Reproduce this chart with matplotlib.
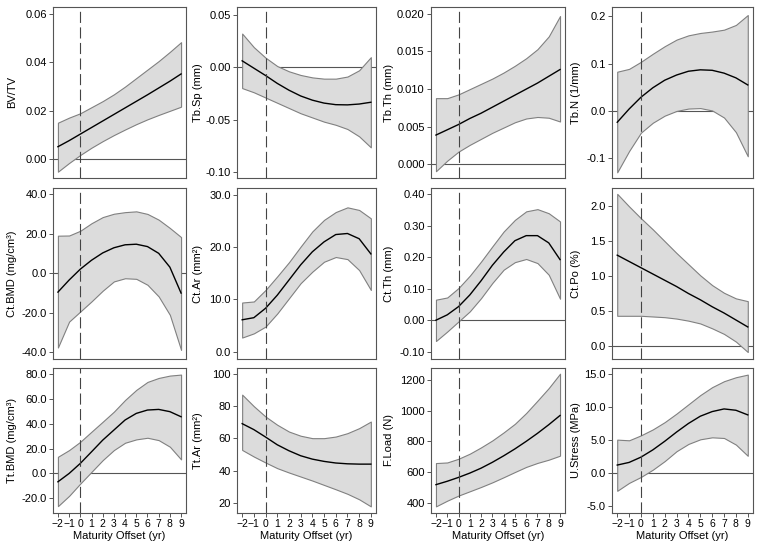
import numpy as np
import matplotlib
matplotlib.use("Agg")
from matplotlib import pyplot as plt
from matplotlib.ticker import FormatStrFormatter

plt.rcParams['font.family'] = ['Liberation Sans', 'DejaVu Sans']
plt.rcParams['font.size'] = 8

# maturity offset (yr)
offset = [-2, -1, 0, 1, 2, 3, 4, 5, 6, 7, 8, 9]

# each panel: fitted curve, upper and lower confidence limits
bvtv_fit = [0.0052, 0.0077, 0.0104, 0.0131, 0.0158, 0.0185, 0.0212, 0.0239, 0.0266, 0.0294, 0.0322, 0.0352]
bvtv_hi = [0.0151, 0.0172, 0.0190, 0.0215, 0.0240, 0.0268, 0.0300, 0.0335, 0.0370, 0.0405, 0.0443, 0.0483]
bvtv_lo = [-0.0051, -0.0015, 0.0018, 0.0048, 0.0075, 0.0100, 0.0123, 0.0145, 0.0165, 0.0183, 0.0200, 0.0217]

tbsp_fit = [0.006, -0.001, -0.008, -0.0155, -0.022, -0.0275, -0.0315, -0.0343, -0.0358, -0.036, -0.0352, -0.0335]
tbsp_hi = [0.032, 0.019, 0.009, 0.001, -0.004, -0.0075, -0.0098, -0.011, -0.011, -0.009, -0.003, 0.0095]
tbsp_lo = [-0.020, -0.024, -0.029, -0.034, -0.039, -0.044, -0.048, -0.052, -0.055, -0.059, -0.066, -0.0765]

tbth_fit = [0.0039, 0.0046, 0.0053, 0.0061, 0.0068, 0.0076, 0.0084, 0.0092, 0.0100, 0.0108, 0.0117, 0.0126]
tbth_hi = [0.0088, 0.0088, 0.0093, 0.0100, 0.0107, 0.0114, 0.0122, 0.0131, 0.0141, 0.0153, 0.0170, 0.0197]
tbth_lo = [-0.0009, 0.0005, 0.0017, 0.0026, 0.0034, 0.0042, 0.0049, 0.0056, 0.0061, 0.0063, 0.0062, 0.0057]

tbn_fit = [-0.024, 0.004, 0.029, 0.049, 0.065, 0.076, 0.084, 0.087, 0.086, 0.080, 0.070, 0.055]
tbn_hi = [0.083, 0.089, 0.104, 0.121, 0.137, 0.151, 0.160, 0.165, 0.168, 0.172, 0.182, 0.203]
tbn_lo = [-0.130, -0.085, -0.046, -0.025, -0.010, 0.000, 0.005, 0.006, 0.001, -0.014, -0.045, -0.096]

ctbmd_fit = [-9.6, -3.5, 2.0, 6.5, 10.2, 12.8, 14.3, 14.6, 13.4, 10.0, 3.0, -10.1]
ctbmd_hi = [18.9, 19.0, 21.4, 25.2, 28.3, 30.0, 30.8, 31.2, 29.9, 27.0, 22.8, 18.2]
ctbmd_lo = [-37.6, -24.5, -19.4, -14.3, -8.9, -4.2, -2.6, -2.9, -5.9, -11.8, -21.1, -38.8]

ctar_fit = [6.1, 6.5, 8.3, 10.8, 13.7, 16.6, 19.1, 21.0, 22.4, 22.6, 21.6, 18.7]
ctar_hi = [9.4, 9.6, 11.8, 14.4, 17.1, 20.1, 23.0, 25.2, 26.7, 27.6, 27.1, 25.5]
ctar_lo = [2.7, 3.5, 4.8, 7.3, 10.2, 13.1, 15.3, 17.2, 18.1, 17.7, 15.6, 11.8]

ctth_fit = [0.000, 0.017, 0.043, 0.080, 0.125, 0.174, 0.216, 0.252, 0.268, 0.268, 0.245, 0.192]
ctth_hi = [0.065, 0.072, 0.102, 0.141, 0.186, 0.234, 0.281, 0.318, 0.345, 0.352, 0.339, 0.313]
ctth_lo = [-0.066, -0.036, -0.004, 0.028, 0.070, 0.118, 0.160, 0.184, 0.194, 0.181, 0.144, 0.068]

ctpo_fit = [1.30, 1.21, 1.12, 1.03, 0.94, 0.85, 0.75, 0.66, 0.56, 0.47, 0.37, 0.27]
ctpo_hi = [2.18, 2.00, 1.83, 1.67, 1.50, 1.33, 1.17, 1.01, 0.87, 0.76, 0.68, 0.64]
ctpo_lo = [0.43, 0.43, 0.43, 0.42, 0.41, 0.39, 0.36, 0.32, 0.25, 0.17, 0.06, -0.09]

ttbmd_fit = [-6.7, 0.0, 8.1, 17.4, 26.8, 34.9, 43.0, 48.3, 51.0, 51.5, 49.7, 45.6]
ttbmd_hi = [13.4, 18.8, 25.5, 33.6, 41.6, 49.7, 59.1, 67.2, 73.6, 76.8, 78.7, 79.5]
ttbmd_lo = [-26.3, -18.0, -8.1, 1.3, 10.7, 18.8, 24.7, 27.4, 28.7, 26.8, 21.5, 11.3]

ttar_fit = [69.2, 65.5, 60.9, 56.1, 52.4, 49.3, 47.2, 45.8, 44.8, 44.3, 44.1, 44.1]
ttar_hi = [87.2, 80.0, 73.6, 68.5, 64.3, 61.7, 60.2, 60.2, 61.2, 63.3, 66.4, 70.5]
ttar_lo = [52.9, 48.8, 45.1, 41.6, 38.9, 36.4, 33.9, 31.2, 28.5, 25.7, 22.3, 17.9]

fload_fit = [519, 541, 566, 594, 626, 664, 706, 751, 800, 852, 908, 968]
fload_hi = [659, 663, 687, 720, 761, 806, 858, 914, 984, 1064, 1146, 1239]
fload_lo = [378, 415, 448, 476, 504, 534, 567, 601, 634, 660, 681, 707]

ustress_fit = [1.2, 1.6, 2.4, 3.5, 4.8, 6.2, 7.5, 8.6, 9.3, 9.7, 9.5, 8.8]
ustress_hi = [5.05, 4.95, 5.7, 6.6, 7.7, 9.0, 10.4, 11.8, 13.0, 13.9, 14.5, 14.9]
ustress_lo = [-2.7, -1.5, -0.6, 0.5, 1.8, 3.3, 4.4, 5.1, 5.4, 5.3, 4.3, 2.6]

labels = ['BV/TV', 'Tb.Sp (mm)', 'Tb.Th (mm)', 'Tb.N (1/mm)',
          'Ct.BMD (mg/cm³)', 'Ct.Ar (mm²)', 'Ct.Th (mm)', 'Ct.Po (%)',
          'Tt.BMD (mg/cm³)', 'Tt.Ar (mm²)', 'F.Load (N)', 'U.Stress (MPa)']

panels = [
    (bvtv_fit, bvtv_hi, bvtv_lo, (-0.0077, 0.0628), [0, 0.02, 0.04, 0.06], '%.2f'),
    (tbsp_fit, tbsp_hi, tbsp_lo, (-0.1057, 0.0573), [-0.10, -0.05, 0, 0.05], '%.2f'),
    (tbth_fit, tbth_hi, tbth_lo, (-0.0018, 0.0209), [0, 0.005, 0.01, 0.015, 0.02], '%.3f'),
    (tbn_fit, tbn_hi, tbn_lo, (-0.142, 0.220), [-0.1, 0, 0.1, 0.2], '%.1f'),
    (ctbmd_fit, ctbmd_hi, ctbmd_lo, (-43.4, 43.0), [-40, -20, 0, 20, 40], '%.1f'),
    (ctar_fit, ctar_hi, ctar_lo, (-1.4, 31.3), [0, 10, 20, 30], '%.1f'),
    (ctth_fit, ctth_hi, ctth_lo, (-0.123, 0.419), [-0.1, 0, 0.1, 0.2, 0.3, 0.4], '%.2f'),
    (ctpo_fit, ctpo_hi, ctpo_lo, (-0.19, 2.264), [0, 0.5, 1, 1.5, 2], '%.1f'),
    (ttbmd_fit, ttbmd_hi, ttbmd_lo, (-31.8, 84.8), [-20, 0, 20, 40, 60, 80], '%.1f'),
    (ttar_fit, ttar_hi, ttar_lo, (13.8, 103.7), [20, 40, 60, 80, 100], '%d'),
    (fload_fit, fload_hi, fload_lo, (335, 1276), [400, 600, 800, 1000, 1200], '%d'),
    (ustress_fit, ustress_hi, ustress_lo, (-6.06, 15.9), [-5, 0, 5, 10, 15], '%.1f'),
]

# panels with a reference line at zero
zero_line = [True, True, True, True, True, False, True, True, True, False, False, True]

W, H = 762, 546
cols = [(53, 186), (237, 376), (431, 565), (612, 753)]
rows = [(7, 178), (188, 359), (368, 513)]
label_x = [13, 199, 390, 577]

fig = plt.figure(figsize=(W / 100, H / 100), dpi=100)
frame = '#555555'

for i, (fit, hi, lo, ylim, yticks, fmt) in enumerate(panels):
    r, c = divmod(i, 4)
    l, rt = cols[c]
    t, b = rows[r]
    ax = fig.add_axes([l / W, 1 - b / H, (rt - l) / W, (b - t) / H])

    if zero_line[i]:
        ax.axhline(0, color='#555555', lw=0.8, zorder=1)
    ax.fill_between(offset, lo, hi, facecolor='#dcdcdc', edgecolor='#808080', lw=0.8, zorder=2)
    ax.plot(offset, fit, color='black', lw=1.0, zorder=3)
    ax.axvline(0, color='#444444', lw=0.8, linestyle=(0, (10, 4)), zorder=4)

    ax.set_xlim(-2.44, 9.44)
    ax.set_ylim(*ylim)
    ax.set_yticks(yticks)
    ax.yaxis.set_major_formatter(FormatStrFormatter(fmt))
    for s in ax.spines.values():
        s.set_color(frame)
        s.set_linewidth(0.8)
    ax.tick_params(axis='y', length=3, width=0.7, color=frame, pad=1.5, labelsize=8)

    if r == 2:
        ax.set_xticks(offset)
        ax.tick_params(axis='x', length=3, width=0.7, color=frame, pad=1.5, labelsize=7.5)
        ax.set_xlabel('Maturity Offset (yr)', fontsize=8, labelpad=1)
    else:
        ax.set_xticks([])

    ax.set_ylabel(labels[i], fontsize=8)
    ax.yaxis.set_label_coords((label_x[c] + 4 - l) / (rt - l), 0.5)

fig.savefig('out.png', dpi=100)
